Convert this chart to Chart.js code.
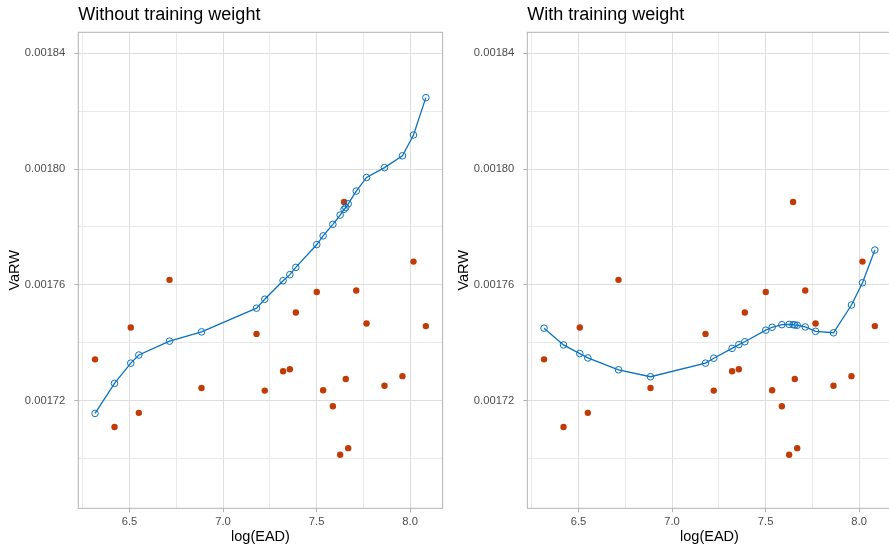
<!DOCTYPE html>
<html lang="en">
<head>
<meta charset="UTF-8">
<title>VaRW vs log(EAD)</title>
<script src="https://cdn.jsdelivr.net/npm/chart.js"></script>
<style>
  body { margin: 0; background: #fff; overflow: hidden; width: 889px; height: 549px; position: relative; }
  .panel { position: absolute; top: 0; width: 445px; height: 549px; }
  #leftPanel { left: 0; }
  #rightPanel { left: 449px; }
</style>
</head>
<body>
<div class="panel" id="leftPanel"><canvas id="chartNoWeight" width="445" height="549"></canvas></div>
<div class="panel" id="rightPanel"><canvas id="chartWeight" width="445" height="549"></canvas></div>

<script>
// data
const logEAD = [6.316, 6.420, 6.507, 6.550, 6.714, 6.885, 7.179, 7.223, 7.321, 7.357, 7.389, 7.501,
                7.535, 7.587, 7.626, 7.647, 7.656, 7.669, 7.712, 7.767, 7.863, 7.959, 8.018, 8.084];
const varwObserved = [0.0017342, 0.0017108, 0.0017452, 0.0017157, 0.0017617, 0.0017243, 0.0017430, 0.0017234,
                      0.0017301, 0.0017308, 0.0017504, 0.0017575, 0.0017235, 0.0017180, 0.0017012, 0.0017886,
                      0.0017274, 0.0017035, 0.0017580, 0.0017466, 0.0017251, 0.0017284, 0.0017680, 0.0017457];
const fitNoWeight = [0.0017155, 0.0017259, 0.0017329, 0.0017357, 0.0017405, 0.0017437, 0.0017519, 0.0017550,
                     0.0017614, 0.0017635, 0.0017660, 0.0017739, 0.0017769, 0.0017809, 0.0017841, 0.0017861,
                     0.0017867, 0.0017880, 0.0017924, 0.0017971, 0.0018005, 0.0018046, 0.0018118, 0.0018247];
const fitWeight = [0.0017450, 0.0017392, 0.0017362, 0.0017347, 0.0017306, 0.0017282, 0.0017329, 0.0017346,
                   0.0017380, 0.0017393, 0.0017403, 0.0017443, 0.0017453, 0.0017462, 0.0017463, 0.0017462,
                   0.0017461, 0.0017460, 0.0017454, 0.0017439, 0.0017434, 0.0017530, 0.0017607, 0.0017720];

const xTicks = [6.5, 7.0, 7.5, 8.0];
const xMinorTicks = [6.25, 6.75, 7.25, 7.75];
const yTicks = [0.00172, 0.00176, 0.00180, 0.00184];
const yMinorTicks = [0.00170, 0.00174, 0.00178, 0.00182];

const FONT = '"Liberation Sans", Arial, Helvetica, sans-serif';
const RED = '#C13B06';
const BLUE = '#0B72BF';

Chart.defaults.font.family = FONT;

function isMajor(list, v) {
    return list.some(t => Math.abs(t - v) < 1e-9);
}

// ggplot-like panel title + border
const panelDecor = {
    id: 'panelDecor',
    afterDatasetsDraw(chart, args, opts) {
        const a = chart.chartArea;
        const ctx = chart.ctx;
        ctx.save();
        ctx.strokeStyle = '#b3b3b3';
        ctx.lineWidth = 1;
        ctx.strokeRect(a.left, a.top, a.right - a.left, a.bottom - a.top);
        ctx.restore();
    },
    afterDraw(chart, args, opts) {
        const ctx = chart.ctx;
        ctx.save();
        ctx.fillStyle = '#000';
        ctx.font = '18px ' + FONT;
        ctx.textAlign = 'left';
        ctx.textBaseline = 'alphabetic';
        ctx.fillText(opts.text, chart.chartArea.left, 20);
        ctx.restore();
    }
};

function makePanel(canvasId, title, fit) {
    const ctx = document.getElementById(canvasId).getContext('2d');
    return new Chart(ctx, {
        type: 'scatter',
        data: {
            datasets: [
                {
                    data: logEAD.map((x, i) => ({ x: x, y: fit[i] })),
                    showLine: true,
                    borderColor: BLUE,
                    borderWidth: 1.3,
                    pointRadius: 3.3,
                    pointBorderWidth: 1,
                    pointBorderColor: BLUE,
                    pointBackgroundColor: 'rgba(0,0,0,0)',
                    order: 0
                },
                {
                    data: logEAD.map((x, i) => ({ x: x, y: varwObserved[i] })),
                    pointRadius: 3.2,
                    borderWidth: 0,
                    backgroundColor: RED,
                    order: 1
                }
            ]
        },
        options: {
            responsive: false,
            animation: false,
            devicePixelRatio: 1,
            layout: { autoPadding: false, padding: { left: 0, top: 32.3, right: 2.4, bottom: 0 } },
            plugins: {
                legend: { display: false },
                tooltip: { enabled: false },
                panelDecor: { text: title }
            },
            scales: {
                x: {
                    type: 'linear',
                    min: 6.2265,
                    max: 8.1735,
                    afterBuildTicks: axis => {
                        axis.ticks = xMinorTicks.concat(xTicks).sort((a, b) => a - b).map(v => ({ value: v }));
                    },
                    afterFit: axis => {
                        axis.height = 40.7;
                        axis.paddingLeft = 0;
                        axis.paddingRight = 0;
                    },
                    border: { display: false },
                    grid: {
                        color: c => isMajor(xTicks, c.tick.value) ? '#dedede' : '#e9e9e9',
                        lineWidth: 1,
                        drawTicks: true,
                        tickLength: 4,
                        tickColor: c => isMajor(xTicks, c.tick.value) ? '#b3b3b3' : 'rgba(0,0,0,0)'
                    },
                    ticks: {
                        autoSkip: false,
                        maxRotation: 0,
                        padding: 3,
                        color: '#4d4d4d',
                        font: { size: 11.2 },
                        callback: v => isMajor(xTicks, v) ? v.toFixed(1) : ''
                    },
                    title: {
                        display: true,
                        text: 'log(EAD)',
                        color: '#000',
                        font: { size: 14.5 },
                        padding: { top: 0, bottom: 3 }
                    }
                },
                y: {
                    type: 'linear',
                    min: 0.0016827,
                    max: 0.0018473,
                    afterBuildTicks: axis => {
                        axis.ticks = yMinorTicks.concat(yTicks).sort((a, b) => a - b).map(v => ({ value: v }));
                    },
                    afterFit: axis => {
                        axis.width = 78.3;
                        axis.paddingTop = 0;
                        axis.paddingBottom = 0;
                    },
                    border: { display: false },
                    grid: {
                        color: c => isMajor(yTicks, c.tick.value) ? '#dedede' : '#e9e9e9',
                        lineWidth: 1,
                        drawTicks: true,
                        tickLength: 4,
                        tickColor: c => isMajor(yTicks, c.tick.value) ? '#b3b3b3' : 'rgba(0,0,0,0)'
                    },
                    ticks: {
                        autoSkip: false,
                        padding: 9,
                        color: '#4d4d4d',
                        font: { size: 11.2 },
                        callback: v => isMajor(yTicks, v) ? v.toFixed(5) : ''
                    },
                    title: {
                        display: true,
                        text: 'VaRW',
                        color: '#000',
                        font: { size: 14.5 },
                        padding: { top: 6, bottom: 0 }
                    }
                }
            }
        },
        plugins: [panelDecor]
    });
}

makePanel('chartNoWeight', 'Without training weight', fitNoWeight);
makePanel('chartWeight', 'With training weight', fitWeight);
</script>
</body>
</html>
